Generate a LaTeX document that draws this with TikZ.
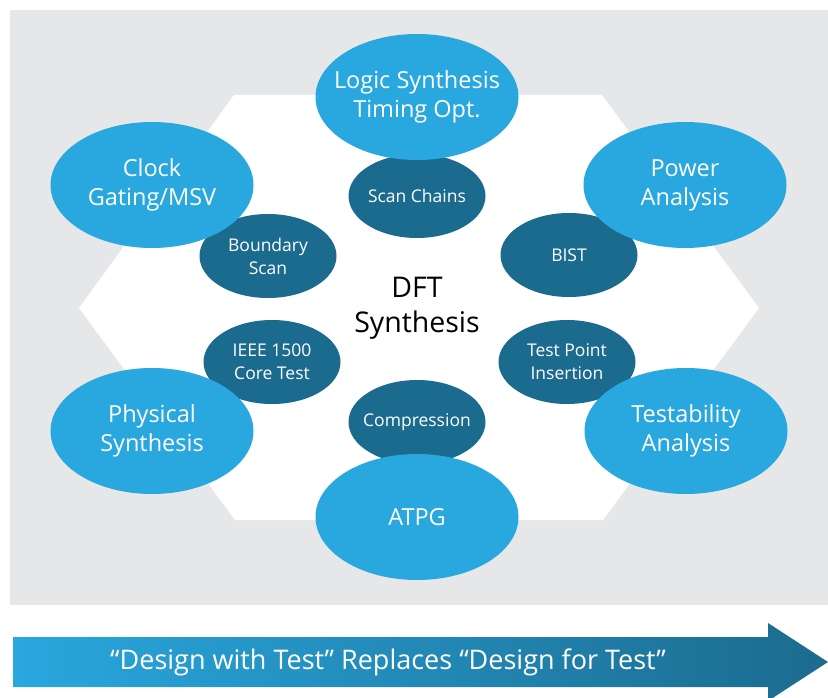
\documentclass[tikz,border=0pt]{standalone}
\usepackage{fontspec}
\setmainfont{Open Sans}
\usetikzlibrary{shapes.geometric}
\definecolor{dftlight}{HTML}{29A7DF}
\definecolor{dftdark}{HTML}{1B6B8E}
\definecolor{dftgray}{HTML}{E6E7E8}

\begin{document}
\begin{tikzpicture}[x=1pt, y=-1pt,
  every node/.style={ellipse, inner sep=0pt, outer sep=0pt, align=center, text=white},
  flowbig/.style={fill=dftlight, minimum width=203pt, minimum height=126pt, inner xsep=-30pt,
    font=\fontsize{23.5}{29}\selectfont},
  flowsmall/.style={fill=dftdark, minimum width=137pt, minimum height=84pt, inner xsep=-25pt,
    font=\fontsize{17.5}{23}\selectfont}]
\useasboundingbox (0,0) rectangle (828,698);
\fill[dftgray] (10,10) rectangle (828,605);
\fill[white] (79,308) -- (234,95) -- (602,95) -- (759,308) -- (603,520) -- (235,520) -- cycle;

\node[flowsmall] (scan) at (417,196) {Scan Chains};
\node[flowsmall] (bound) at (268,256) {Boundary\\Scan};
\node[flowsmall] (bist) at (569,255) {BIST};
\node[flowsmall] (ieee) at (272,362) {IEEE 1500\\Core Test};
\node[flowsmall] (tpi) at (567,362) {Test Point\\Insertion};
\node[flowsmall] (compr) at (417,422) {Compression};

\node[flowbig] (logic) at (417,97) {Logic Synthesis\\Timing Opt.};
\node[flowbig] (clock) at (152,185) {Clock\\Gating/MSV};
\node[flowbig] (power) at (685,185) {Power\\Analysis};
\node[flowbig] (phys) at (152,431) {Physical\\Synthesis};
\node[flowbig] (testab) at (686,431) {Testability\\Analysis};
\node[flowbig] (atpg) at (417,517) {ATPG};

\node[rectangle, text=black, font=\fontsize{28.5}{35}\selectfont] (dft) at (417,308) {DFT\\Synthesis};

\shade[left color=dftlight, right color=dftdark] (13,637) -- (768,637) -- (768,623) -- (828,662)
  -- (768,701) -- (768,687) -- (13,687) -- cycle;
\node[rectangle, font=\fontsize{27}{28}\selectfont] (motto) at (388,662) {“Design with Test” Replaces “Design for Test”};
\end{tikzpicture}
\end{document}
